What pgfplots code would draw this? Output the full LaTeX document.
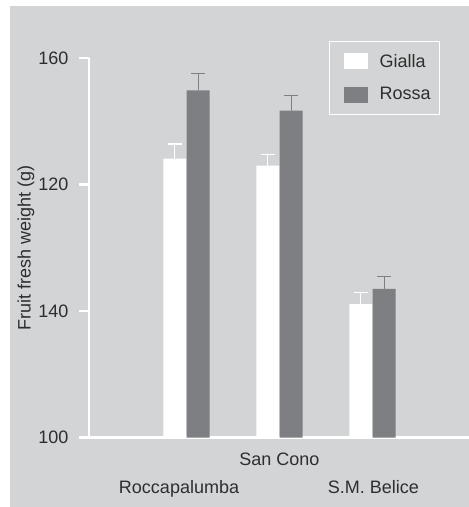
\documentclass[border=0pt]{standalone}
\usepackage{fontspec}
\setmainfont{Liberation Sans}
\usepackage{pgfplots}
\pgfplotsset{compat=1.18}
\definecolor{bg}{HTML}{D3D4D6}
\definecolor{rossa}{HTML}{7E7F83}
\definecolor{txt}{HTML}{2E2E2E}
\newcommand{\fs}{\fontsize{18bp}{21bp}\selectfont}
\begin{document}
\begin{tikzpicture}
\fill[white] (-89bp,-69.3bp) rectangle (380bp,437.7bp);
\fill[bg] (-78.5bp,-69.3bp) rectangle (380bp,431.7bp);
\begin{axis}[
 at={(0,0)}, anchor=south west,
 scale only axis, width=380bp, height=379.7bp,
 xmin=-1.048, xmax=3.038, ymin=100, ymax=160,
 ybar, bar width=23bp,
 axis x line=bottom, axis y line=left,
 axis line style={white, line width=2.6bp, -},
 ytick={100,120,140,160}, yticklabels={100,140,120,160},
 xtick={1}, xticklabels={San Cono},
 extra x ticks={-0.08,2.01}, extra x tick labels={Roccapalumba,S.M. Belice},
 extra x tick style={xtick style={draw=none}, xticklabel style={yshift=-28.3bp}},
 xtick style={draw=none},
 ytick style={white, line width=2.6bp},
 tick align=outside, major tick length=10bp,
 /pgf/number format/assume math mode=true,
 tick label style={font=\fs, text=txt},
 xticklabel style={anchor=base, yshift=-17.5bp},
 yticklabel style={xshift=-7bp},
 ylabel={Fruit fresh weight (g)},
 ylabel style={font=\fs, text=txt, at={(axis description cs:0,0.5)}, anchor=center, yshift=63bp},
 legend style={at={(rel axis cs:0.924,1.0456)}, anchor=north east, draw=white, line width=0.8bp, fill=none, font=\fs, text=txt, legend cell align=left, inner xsep=7bp, inner ysep=11bp, row sep=15bp},
 clip=true,
]
\addplot[bar shift=-11.7bp, fill=white, draw=none, forget plot,
  error bars/.cd, y dir=plus, y explicit, error mark=|,
  error bar style={draw=white, line width=1.3bp},
  error mark options={draw=white, mark size=7bp, line width=1.3bp}]
 coordinates {(0,144.1) +- (0,2.3) (1,143.0) +- (0,1.8) (2,121.1) +- (0,1.8)};
\addplot[bar shift=11.7bp, fill=rossa, draw=none, forget plot,
  error bars/.cd, y dir=plus, y explicit, error mark=|,
  error bar style={draw=rossa, line width=1.3bp},
  error mark options={draw=rossa, mark size=7bp, line width=1.3bp}]
 coordinates {(0,154.9) +- (0,2.6) (1,151.7) +- (0,2.4) (2,123.5) +- (0,2.0)};
\addlegendimage{legend image code/.code={\path (-8bp,0bp) (33bp,0bp); \fill[white] (0bp,-7.5bp) rectangle (23bp,7.5bp);}}
\addlegendentry{Gialla}
\addlegendimage{legend image code/.code={\path (-8bp,0bp) (33bp,0bp); \fill[rossa] (0bp,-7.5bp) rectangle (23bp,7.5bp);}}
\addlegendentry{Rossa}
\end{axis}
\pgfresetboundingbox
\path[use as bounding box] (-89bp,-69.3bp) rectangle (380bp,437.7bp);
\end{tikzpicture}
\end{document}
